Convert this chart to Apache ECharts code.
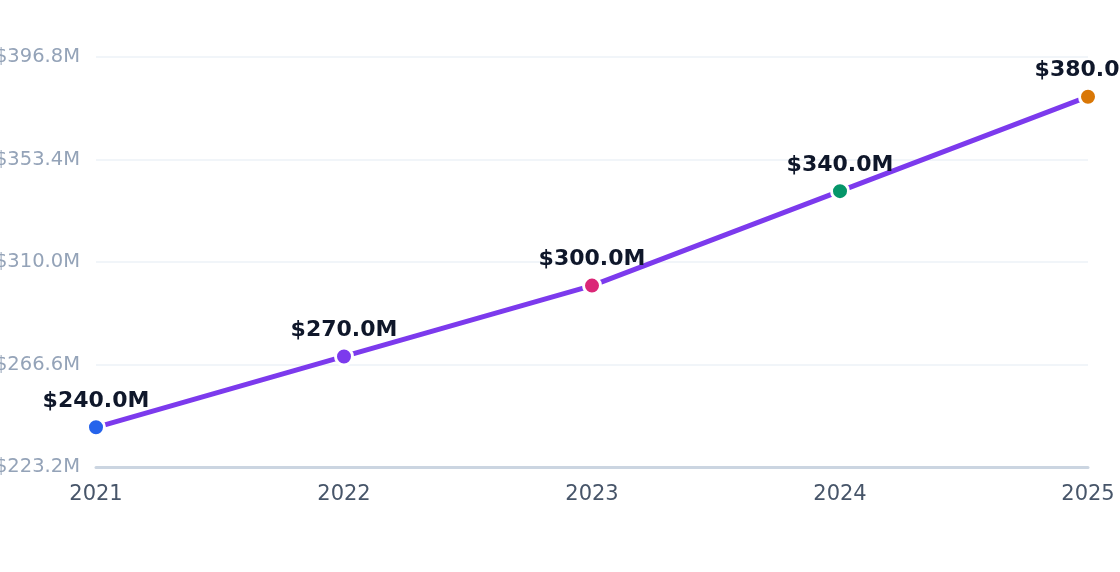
<!DOCTYPE html>
<html>
<head>
<meta charset="utf-8">
<script src="https://cdn.jsdelivr.net/npm/echarts@6/dist/echarts.min.js"></script>
<style>
  html, body { margin: 0; padding: 0; background: #fff; }
  #chart { width: 1120px; height: 572px; }
</style>
</head>
<body>
<div id="chart"></div>
<script>
const years = ['2021', '2022', '2023', '2024', '2025'];
const values = [240, 270, 300, 340, 380];
const pointColors = ['#2563eb', '#7c3aed', '#db2777', '#059669', '#d97706'];

const chart = echarts.init(document.getElementById('chart'));

chart.setOption({
  animation: false,
  textStyle: { fontFamily: 'DejaVu Sans' },
  grid: { left: 96, right: 32, top: 57, bottom: 105, containLabel: false, outerBoundsMode: 'none' },
  xAxis: {
    type: 'category',
    data: years,
    boundaryGap: false,
    axisLine: { lineStyle: { color: '#cbd5e1', width: 3 } },
    axisTick: { show: false },
    axisLabel: { color: '#475569', fontSize: 21, margin: 17 }
  },
  yAxis: {
    type: 'value',
    min: 223.2,
    max: 396.8,
    interval: 43.4,
    axisLine: { show: false },
    axisTick: { show: false },
    splitLine: { lineStyle: { color: '#f1f5f9', width: 2 } },
    axisLabel: {
      color: '#94a3b8',
      fontSize: 19.5,
      margin: 16,
      padding: [4, 0, 0, 0],
      formatter: v => '$' + v.toFixed(1) + 'M'
    }
  },
  series: [{
    type: 'line',
    data: values.map((v, i) => ({ value: v, itemStyle: { color: pointColors[i] } })),
    symbol: 'circle',
    symbolSize: 17,
    lineStyle: { color: '#7c3aed', width: 5 },
    itemStyle: { borderColor: '#fff', borderWidth: 3 },
    label: {
      show: true,
      position: 'top',
      distance: 5,
      color: '#0f172a',
      fontSize: 22,
      fontWeight: 'bold',
      formatter: p => '$' + p.value.toFixed(1) + 'M'
    }
  }]
});
</script>
</body>
</html>
